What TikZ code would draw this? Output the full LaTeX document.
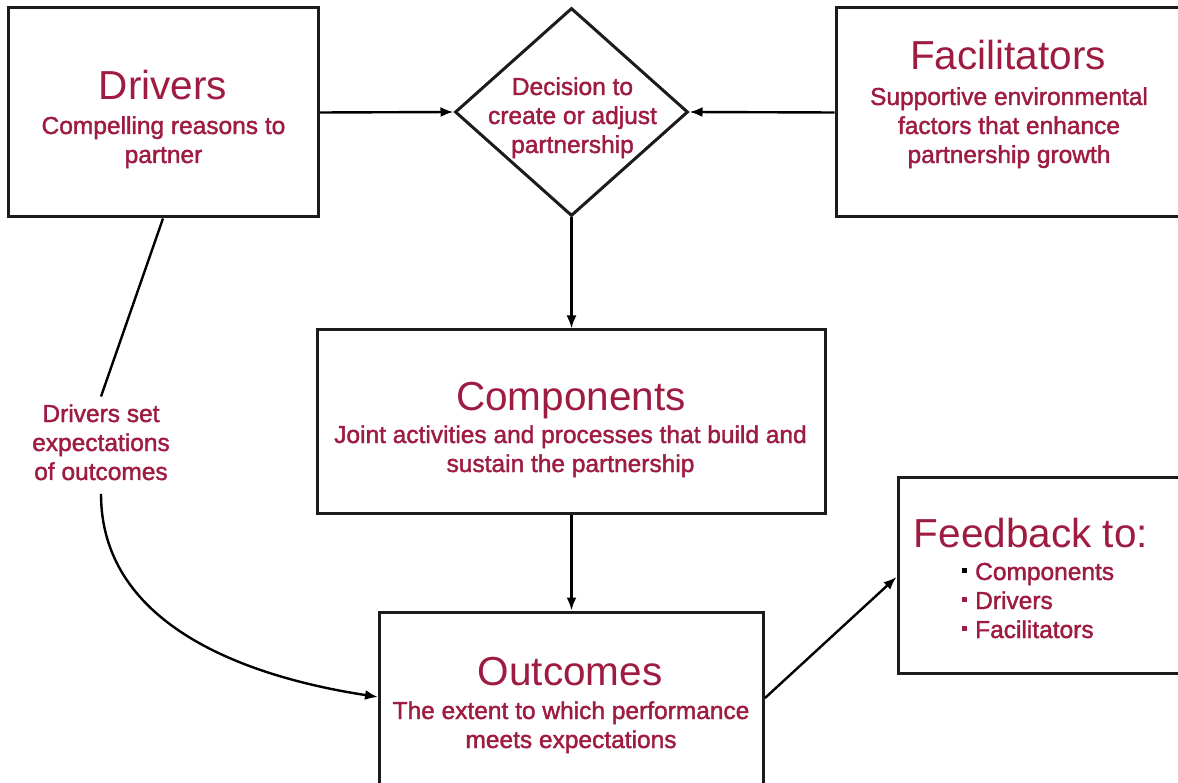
\documentclass[tikz,border=0pt]{standalone}
\usepackage{fontspec}
\setmainfont{Liberation Sans}
\newfontfamily\bodyfont{Liberation Sans}[FakeBold=1.6]
\usetikzlibrary{shapes.geometric,arrows.meta}
\definecolor{wine}{RGB}{158,27,66}
\definecolor{edge}{RGB}{28,28,28}
% stacked lines whose base is the first line's baseline
\newcommand{\stack}[2][c]{\begin{tabular}[t]{@{}#1@{}}#2\end{tabular}}
\newcommand{\bul}[1]{\makebox[13pt][l]{\textcolor{#1}{\rule[7.5pt]{4.5pt}{4.5pt}}}}
\tikzset{
  box/.style={draw=edge, line width=3pt, inner sep=0pt, fill=white},
  link/.style={draw=black, line width=2.4pt, -{Latex[length=13pt,width=10pt]}},
  plainlink/.style={draw=black, line width=2.4pt},
  title/.style={text=wine, font=\fontsize{40.5}{44}\selectfont, inner sep=0pt, anchor=base},
  body/.style={text=wine, font=\bodyfont\fontsize{24.5}{29}\selectfont, inner sep=0pt, anchor=base},
}
\begin{document}
\begin{tikzpicture}[x=1pt,y=-1pt]
  \useasboundingbox (0,0) rectangle (1178,783);
  \clip (0,0) rectangle (1178,783);
  \fill[white] (0,0) rectangle (1178,783);

  % boxes
  \node[box, minimum width=310pt, minimum height=209pt] (drivers) at (163,112.5) {};
  \node[box, diamond, minimum width=233pt, minimum height=208pt] (decision) at (571.5,112) {};
  \node[box, minimum width=354pt, minimum height=209pt] (facil) at (1013,112.5) {};
  \node[box, minimum width=508pt, minimum height=183pt] (comp) at (571.5,421.5) {};
  \node[box, minimum width=384pt, minimum height=218pt] (outc) at (571.5,721) {};
  \node[box, minimum width=292pt, minimum height=196pt] (feed) at (1044,575) {};

  % texts
  \node[title] (driversT) at (163,100) {Drivers};
  \node[body] (driversB) at (163.5,134) {\stack{Compelling reasons to\\partner}};
  \node[body] (decisionB) at (572.5,95) {\stack{Decision to\\create or adjust\\partnership}};
  \node[title] (facilT) at (1008,70) {Facilitators};
  \node[body] (facilB) at (1009,105) {\stack{Supportive environmental\\factors that enhance\\partnership growth}};
  \node[title] (compT) at (571,410) {Components};
  \node[body] (compB) at (570.5,443) {\stack{Joint activities and processes that build and\\sustain the partnership}};
  \node[title] (outcT) at (570,685) {Outcomes};
  \node[body] (outcB) at (571,719) {\stack{The extent to which performance\\meets expectations}};
  \node[title] (feedT) at (1031,547) {Feedback to:};
  \node[body, anchor=base west] (feedB) at (962,580)
    {\stack[l]{\bul{black}Components\\\bul{wine}Drivers\\\bul{wine}Facilitators}};
  \node[body, inner ysep=5pt] (setlbl) at (101,422) {\stack{Drivers set\\expectations\\of outcomes}};

  % connectors
  \draw[link] (drivers.east) -- (decision.west);
  \draw[link] (facil.west) -- (decision.east);
  \draw[link] (decision.south) -- (comp.north);
  \draw[link] (comp.south) -- (outc.north);
  \draw[plainlink] (drivers.south) -- (setlbl.north);
  \draw[link] (setlbl.south) .. controls (101,620) and (235,675) .. ([yshift=24pt]outc.west);
  \draw[link] ([yshift=23pt]outc.east) -- ([yshift=-2pt]feed.west);
\end{tikzpicture}
\end{document}
